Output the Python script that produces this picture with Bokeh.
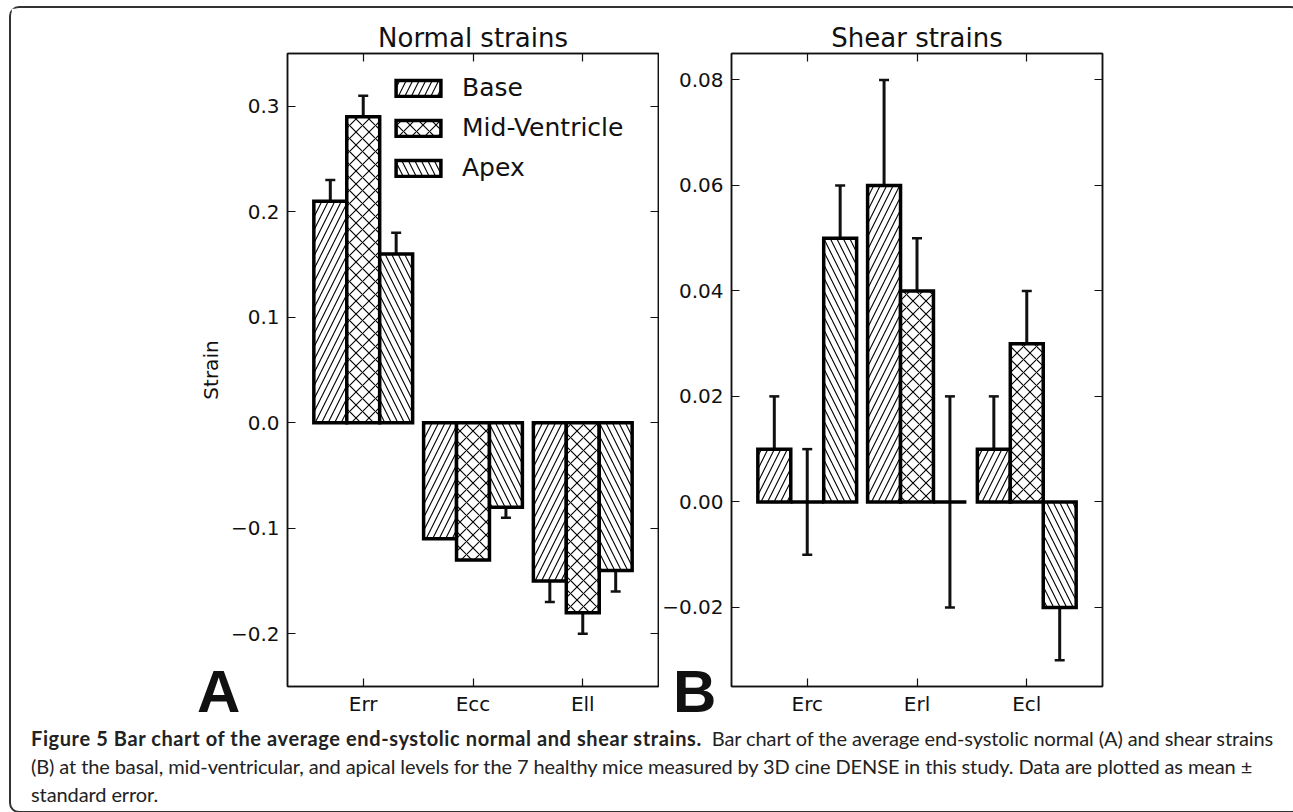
import numpy as np
from bokeh.plotting import figure
from bokeh.models import (ColumnDataSource, Range1d, LinearAxis, FixedTicker, Whisker, TeeHead,
                          Legend, LegendItem, Div, CustomJSTickFormatter)
from bokeh.layouts import row, column
from bokeh.embed import file_html
from bokeh.resources import INLINE
from bokeh.core.properties import value

# ---------------- data ----------------
levels = ["Base", "Mid-Ventricle", "Apex"]

normal_categories = ["Err", "Ecc", "Ell"]
normal_base = [0.21, -0.11, -0.15]
normal_base_err = [0.02, 0.0, 0.02]
normal_mid = [0.29, -0.13, -0.18]
normal_mid_err = [0.02, 0.0, 0.02]
normal_apex = [0.16, -0.08, -0.14]
normal_apex_err = [0.02, 0.01, 0.02]
normal_ticks = [-0.2, -0.1, 0.0, 0.1, 0.2, 0.3]
normal_tick_labels = ["\u22120.2", "\u22120.1", "0.0", "0.1", "0.2", "0.3"]

shear_categories = ["Erc", "Erl", "Ecl"]
shear_base = [0.01, 0.06, 0.01]
shear_base_err = [0.01, 0.02, 0.01]
shear_mid = [0.00, 0.04, 0.03]
shear_mid_err = [0.01, 0.01, 0.01]
shear_apex = [0.05, 0.00, -0.02]
shear_apex_err = [0.01, 0.02, 0.01]
shear_ticks = [-0.02, 0.0, 0.02, 0.04, 0.06, 0.08]
shear_tick_labels = ["\u22120.02", "0.00", "0.02", "0.04", "0.06", "0.08"]

panel_letters = ["A", "B"]
caption_bold = "Figure 5 Bar chart of the average end-systolic normal and shear strains."
caption_lines = [
    "Bar chart of the average end-systolic normal (A) and shear strains",
    "(B) at the basal, mid-ventricular, and apical levels for the 7 healthy mice measured by 3D cine DENSE in this study. Data are plotted as mean \u00b1",
    "standard error.",
]

# ---------------- style ----------------
HATCHES = ["/", "x", "\\"]
BAR_W = 0.3
INK = "#111111"
FONT = "DejaVu Sans"


def tick_fmt(tvals, tlabels):
    return CustomJSTickFormatter(args=dict(tvals=tvals, tlabels=tlabels), code="""
        let best = 0, d = Infinity;
        for (let i = 0; i < tvals.length; i++) {
            const e = Math.abs(tvals[i] - tick);
            if (e < d) { d = e; best = i; }
        }
        return tlabels[best];
    """)


def style_axis(ax):
    ax.major_tick_in = 8
    ax.major_tick_out = 0
    ax.minor_tick_in = 0
    ax.minor_tick_out = 0
    ax.axis_line_color = INK
    ax.axis_line_width = 1.5
    ax.major_tick_line_color = INK
    ax.major_tick_line_width = 1.2
    ax.major_label_text_font = FONT
    ax.major_label_text_font_size = "20px"
    ax.major_label_text_color = INK
    ax.major_label_standoff = 8


def make_panel(title, cats, vals, errs, ticks, labels, yr, ylabel,
               border_left, border_right, show_legend):
    p = figure(frame_width=371, frame_height=633,
               x_range=Range1d(-0.69, 2.69), y_range=Range1d(*yr),
               output_backend="svg", toolbar_location=None,
               min_border_left=border_left, min_border_right=border_right,
               min_border_top=45, min_border_bottom=29,
               background_fill_color="white", border_fill_color="white",
               outline_line_color=INK, outline_line_width=1.5)
    p.title.text = title
    p.title.text_font = FONT
    p.title.text_font_size = "26px"
    p.title.text_font_style = "normal"
    p.title.text_color = INK
    p.title.align = "center"
    p.title.standoff = 2
    p.xgrid.visible = False
    p.ygrid.visible = False

    idx = np.arange(len(cats))
    xticker = FixedTicker(ticks=[int(i) for i in idx], minor_ticks=[])
    yticker = FixedTicker(ticks=ticks, minor_ticks=[])

    xa = p.xaxis[0]
    xa.ticker = xticker
    xa.formatter = CustomJSTickFormatter(args=dict(cats=cats),
                                         code="return cats[Math.round(tick)];")
    style_axis(xa)
    xa.major_label_standoff = 5

    ya = p.yaxis[0]
    ya.ticker = yticker
    ya.formatter = tick_fmt(ticks, labels)
    style_axis(ya)
    if ylabel:
        ya.axis_label = ylabel
        ya.axis_label_text_font = FONT
        ya.axis_label_text_font_size = "20px"
        ya.axis_label_text_font_style = "normal"
        ya.axis_label_text_color = INK
        ya.axis_label_standoff = 5

    blank = "return '';"
    top_ax = LinearAxis(ticker=xticker, formatter=CustomJSTickFormatter(code=blank))
    style_axis(top_ax)
    top_ax.major_label_standoff = 0
    right_ax = LinearAxis(ticker=yticker, formatter=CustomJSTickFormatter(code=blank))
    style_axis(right_ax)
    right_ax.major_label_standoff = 0
    p.add_layout(top_ax, "above")
    p.add_layout(right_ax, "right")

    renderers = []
    for j, (v, e) in enumerate(zip(vals, errs)):
        xs = idx + (j - 1) * BAR_W
        src = ColumnDataSource(dict(x=xs, top=v))
        r = p.vbar(x="x", top="top", bottom=0, width=BAR_W, source=src,
                   fill_color="white", line_color="black", line_width=3.5, line_join="miter",
                   hatch_pattern=HATCHES[j], hatch_color="black", hatch_scale=13,
                   hatch_weight=1.1)
        renderers.append(r)
        v_arr, e_arr = np.array(v), np.array(e)
        keep = e_arr > 0
        wsrc = ColumnDataSource(dict(x=xs[keep], upper=(v_arr + e_arr)[keep],
                                     lower=(v_arr - e_arr)[keep]))
        w = Whisker(source=wsrc, base="x", upper="upper", lower="lower",
                    line_color=INK, line_width=3,
                    upper_head=TeeHead(size=10, line_color=INK, line_width=2.5),
                    lower_head=TeeHead(size=10, line_color=INK, line_width=2.5))
        p.add_layout(w)

    if show_legend:
        items = [LegendItem(label=value(levels[j]), renderers=[renderers[j]]) for j in range(3)]
        lg = Legend(items=items, location=(103, 504), padding=0, margin=0, spacing=11,
                    glyph_width=56, glyph_height=20, label_height=20, label_standoff=16,
                    label_text_font=FONT, label_text_font_size="25px", label_text_color=INK,
                    border_line_alpha=0, background_fill_alpha=0)
        p.add_layout(lg)
    return p


p1 = make_panel("Normal strains", normal_categories,
                [normal_base, normal_mid, normal_apex],
                [normal_base_err, normal_mid_err, normal_apex_err],
                normal_ticks, normal_tick_labels, (-0.25, 0.35), "Strain",
                276, 1, True)
p2 = make_panel("Shear strains", shear_categories,
                [shear_base, shear_mid, shear_apex],
                [shear_base_err, shear_mid_err, shear_apex_err],
                shear_ticks, shear_tick_labels, (-0.035, 0.085), None,
                70, 189, False)

letter_style = ("position:absolute; top:-61px; font-family:'Liberation Sans'; font-weight:bold; "
                "font-size:60px; line-height:60px; color:#111111;")
html = (
    "<div style=\"position:relative; width:1278px; height:83px; font-family:Lato; "
    "font-size:20px; color:#222222;\">"
    f"<span style=\"{letter_style} left:181px;\">{panel_letters[0]}</span>"
    f"<span style=\"{letter_style} left:657px;\">{panel_letters[1]}</span>"
    "<div style=\"padding-top:1px; padding-left:15px; line-height:28px; white-space:nowrap; "
    "letter-spacing:-0.1px;\">"
    "<b style=\"letter-spacing:0.6px\">" + caption_bold + "</b>&nbsp; " + caption_lines[0] + "<br>"
    + caption_lines[1] + "<br>" + caption_lines[2] + "</div></div>"
)
cap = Div(text=html, width=1278, height=83)

layout = column(row(p1, p2), cap,
                styles={"border": "2px solid #333333", "border-radius": "10px",
                        "margin-left": "9px", "margin-top": "6px",
                        "background-color": "white"})

open("out.html", "w").write(file_html(layout, INLINE, title="Figure 5"))
